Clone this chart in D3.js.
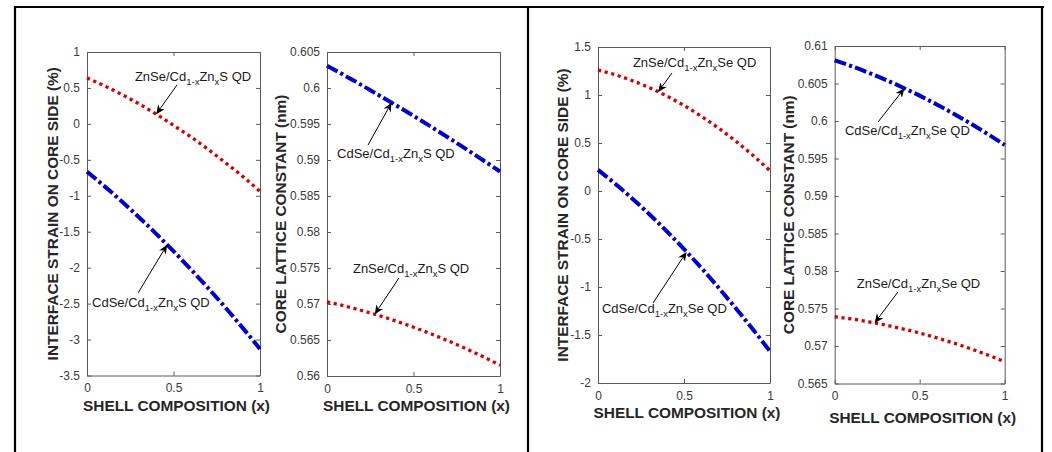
<!DOCTYPE html>
<html>
<head>
<meta charset="utf-8">
<script src="https://cdn.jsdelivr.net/npm/d3@7"></script>
<style>
  body { margin: 0; background: #fff; }
  svg { display: block; }
  text { font-family: "Liberation Sans", Arial, sans-serif; }
</style>
</head>
<body>
<svg id="chart" width="1052" height="452"></svg>
<script>
// Shell composition x (fraction of Zn in the Cd(1-x)Zn(x) shell)
const composition = [0, 0.1, 0.2, 0.3, 0.4, 0.5, 0.6, 0.7, 0.8, 0.9, 1.0];

// Cd(1-x)Zn(x)S shells: interface strain on core side (%)
const strainZnSe_CdZnS = [0.64, 0.53, 0.41, 0.28, 0.135, -0.02, -0.18, -0.355, -0.54, -0.73, -0.94];
const strainCdSe_CdZnS = [-0.665, -0.866, -1.077, -1.298, -1.529, -1.771, -2.023, -2.284, -2.555, -2.838, -3.13];

// Cd(1-x)Zn(x)S shells: core lattice constant (nm)
const latticeCdSe_CdZnS = [0.6031, 0.60177, 0.6004, 0.599, 0.59758, 0.59613, 0.59464, 0.59313, 0.59158, 0.590, 0.5884];
const latticeZnSe_CdZnS = [0.5703, 0.56974, 0.5691, 0.5684, 0.56762, 0.56678, 0.56586, 0.56488, 0.56382, 0.5627, 0.5615];

// Cd(1-x)Zn(x)Se shells: interface strain on core side (%)
const strainZnSe_CdZnSe = [1.26, 1.211, 1.149, 1.076, 0.989, 0.891, 0.779, 0.656, 0.52, 0.372, 0.211];
const strainCdSe_CdZnSe = [0.22, 0.075, -0.08, -0.245, -0.42, -0.605, -0.80, -1.005, -1.22, -1.44, -1.67];

// Cd(1-x)Zn(x)Se shells: core lattice constant (nm)
const latticeCdSe_CdZnSe = [0.6081, 0.6073, 0.60643, 0.60549, 0.60447, 0.60338, 0.60221, 0.60097, 0.59965, 0.59826, 0.5968];
const latticeZnSe_CdZnSe = [0.5739, 0.5736, 0.57323, 0.57279, 0.57229, 0.57173, 0.57109, 0.57039, 0.56963, 0.5688, 0.5679];

// Tick values
const xTicks = [0, 0.5, 1];
const yTicksStrainS = [-3.5, -3, -2.5, -2, -1.5, -1, -0.5, 0, 0.5, 1];
const yTicksLatticeS = [0.56, 0.565, 0.57, 0.575, 0.58, 0.585, 0.59, 0.595, 0.6, 0.605];
const yTicksStrainSe = [-2, -1.5, -1, -0.5, 0, 0.5, 1, 1.5];
const yTicksLatticeSe = [0.565, 0.57, 0.575, 0.58, 0.585, 0.59, 0.595, 0.6, 0.605, 0.61];

const xLabel = "SHELL COMPOSITION (x)";
const strainLabel = "INTERFACE STRAIN ON CORE SIDE (%)";
const latticeLabel = "CORE LATTICE CONSTANT (nm)";

const svg = d3.select("#chart");

// Frame around the two halves
const frame = svg.append("g").attr("stroke", "#000").attr("stroke-width", 2.2).attr("fill", "none");
frame.append("line").attr("x1", 14).attr("x2", 1044).attr("y1", 7).attr("y2", 7);
frame.append("line").attr("x1", 15).attr("x2", 15).attr("y1", 6).attr("y2", 452);
frame.append("line").attr("x1", 528).attr("x2", 528).attr("y1", 6).attr("y2", 452);
frame.append("line").attr("x1", 1042).attr("x2", 1042).attr("y1", 6).attr("y2", 452);

const styles = {
  znse: { color: "#d40000", width: 3.3, dash: "3.2,3.6", cap: "butt" },
  cdse: { color: "#0000cc", width: 4, dash: "12,3.2,3.2,3.2", cap: "butt" }
};

function subLabel(sel, pre, shell) {
  // e.g. ZnSe/Cd_{1-x}Zn_{x}S QD
  sel.append("tspan").text(pre + "/Cd");
  sel.append("tspan").attr("font-size", 9.5).attr("dy", 4).text("1-x");
  sel.append("tspan").attr("dy", -4).text("Zn");
  sel.append("tspan").attr("font-size", 9.5).attr("dy", 4).text("x");
  sel.append("tspan").attr("dy", -4).text(shell + " QD");
}

const panels = [
  { box: [87, 52, 260, 375.5], yDomain: [-3.5, 1], yTicks: yTicksStrainS, yLabel: strainLabel, yLabelX: 53, xLabelY: 406, shell: "S",
    series: [
      { values: strainZnSe_CdZnS, kind: "znse", name: "ZnSe", at: 0.40, text: [0.277, 0.597], tail: [0.52, 0.541] },
      { values: strainCdSe_CdZnS, kind: "cdse", name: "CdSe", at: 0.463, text: [0.029, -2.547], tail: [0.295, -2.352] }
    ] },
  { box: [327, 52, 500, 376], yDomain: [0.56, 0.605], yTicks: yTicksLatticeS, yLabel: latticeLabel, yLabelX: 281, xLabelY: 406, shell: "S",
    series: [
      { values: latticeCdSe_CdZnS, kind: "cdse", name: "CdSe", at: 0.373, text: [0.058, 0.59028], tail: [0.237, 0.59208] },
      { values: latticeZnSe_CdZnS, kind: "znse", name: "ZnSe", at: 0.276, text: [0.150, 0.57431], tail: [0.416, 0.57361] }
    ] },
  { box: [598, 47, 770, 383], yDomain: [-2, 1.5], yTicks: yTicksStrainSe, yLabel: strainLabel, yLabelX: 563, xLabelY: 413, shell: "Se",
    series: [
      { values: strainZnSe_CdZnSe, kind: "znse", name: "ZnSe", at: 0.35, text: [0.203, 1.292], tail: [0.43, 1.229] },
      { values: strainCdSe_CdZnSe, kind: "cdse", name: "CdSe", at: 0.515, text: [0.023, -1.271], tail: [0.32, -1.167] }
    ] },
  { box: [834.7, 46, 1004.7, 383.5], yDomain: [0.565, 0.61], yTicks: yTicksLatticeSe, yLabel: latticeLabel, yLabelX: 789, xLabelY: 418, shell: "Se",
    series: [
      { values: latticeCdSe_CdZnSe, kind: "cdse", name: "CdSe", at: 0.41, text: [0.06, 0.59813], tail: [0.255, 0.59987] },
      { values: latticeZnSe_CdZnSe, kind: "znse", name: "ZnSe", at: 0.235, text: [0.13, 0.57773], tail: [0.372, 0.5772] }
    ] }
];

const fmt = v => String(+v.toFixed(4));

panels.forEach(p => {
  const [l, t, r, b] = p.box;
  const x = d3.scaleLinear().domain([0, 1]).range([l, r]);
  const y = d3.scaleLinear().domain(p.yDomain).range([b, t]);
  const g = svg.append("g");

  // axes with inward ticks on all four sides
  const axisColor = "#5a5a5a";
  const bottom = g.append("g").attr("transform", `translate(0,${b})`)
    .call(d3.axisBottom(x).tickValues(xTicks).tickFormat(fmt).tickSizeInner(-4).tickSizeOuter(0).tickPadding(8));
  const top = g.append("g").attr("transform", `translate(0,${t})`)
    .call(d3.axisTop(x).tickValues(xTicks).tickFormat("").tickSizeInner(-4).tickSizeOuter(0));
  const left = g.append("g").attr("transform", `translate(${l},0)`)
    .call(d3.axisLeft(y).tickValues(p.yTicks).tickFormat(fmt).tickSizeInner(-4).tickSizeOuter(0).tickPadding(7));
  const right = g.append("g").attr("transform", `translate(${r},0)`)
    .call(d3.axisRight(y).tickValues(p.yTicks).tickFormat("").tickSizeInner(-4).tickSizeOuter(0));
  [bottom, top, left, right].forEach(a => {
    a.select(".domain").attr("stroke", axisColor).attr("stroke-width", 1);
    a.selectAll(".tick line").attr("stroke", axisColor).attr("stroke-width", 1);
    a.selectAll(".tick text").attr("fill", "#3a3a3a").attr("font-size", 12)
      .attr("font-family", '"Liberation Sans", Arial, sans-serif');
  });

  // axis titles
  g.append("text").attr("x", (l + r) / 2 + 3).attr("y", p.xLabelY).attr("dy", "0.35em")
    .attr("text-anchor", "middle").attr("font-weight", "bold").attr("font-size", 15.4)
    .attr("fill", "#262626").text(xLabel);
  g.append("text").attr("transform", `translate(${p.yLabelX},${(t + b) / 2}) rotate(-90)`)
    .attr("dy", "0.35em").attr("text-anchor", "middle").attr("font-weight", "bold")
    .attr("font-size", 15.4).attr("fill", "#262626").text(p.yLabel);

  // curves
  const line = d3.line().x((d, i) => x(composition[i])).y(d => y(d)).curve(d3.curveMonotoneX);
  p.series.forEach(s => {
    const st = styles[s.kind];
    g.append("path").datum(s.values).attr("d", line).attr("fill", "none")
      .attr("stroke", st.color).attr("stroke-width", st.width)
      .attr("stroke-dasharray", st.dash).attr("stroke-linecap", st.cap);
  });

  // annotations: label + arrow pointing at the curve
  p.series.forEach(s => {
    const interp = d3.scaleLinear().domain(composition).range(s.values);
    const tipX = x(s.at), tipY = y(interp(s.at));
    const tailX = x(s.tail[0]), tailY = y(s.tail[1]);
    const ang = Math.atan2(tipY - tailY, tipX - tailX);
    const headLen = 9, headHalf = 4, notch = 6.5;
    const bx = tipX - headLen * Math.cos(ang), by = tipY - headLen * Math.sin(ang);
    const nx = tipX - notch * Math.cos(ang), ny = tipY - notch * Math.sin(ang);
    const px = -Math.sin(ang) * headHalf, py = Math.cos(ang) * headHalf;
    g.append("line").attr("x1", tailX).attr("y1", tailY).attr("x2", nx).attr("y2", ny)
      .attr("stroke", "#000").attr("stroke-width", 1);
    g.append("path")
      .attr("d", `M${tipX},${tipY}L${bx + px},${by + py}L${nx},${ny}L${bx - px},${by - py}Z`)
      .attr("fill", "#000");
    const txt = g.append("text").attr("x", x(s.text[0])).attr("y", y(s.text[1]))
      .attr("font-size", 13).attr("fill", "#1a1a1a");
    subLabel(txt, s.name, p.shell);
  });
});
</script>
</body>
</html>
